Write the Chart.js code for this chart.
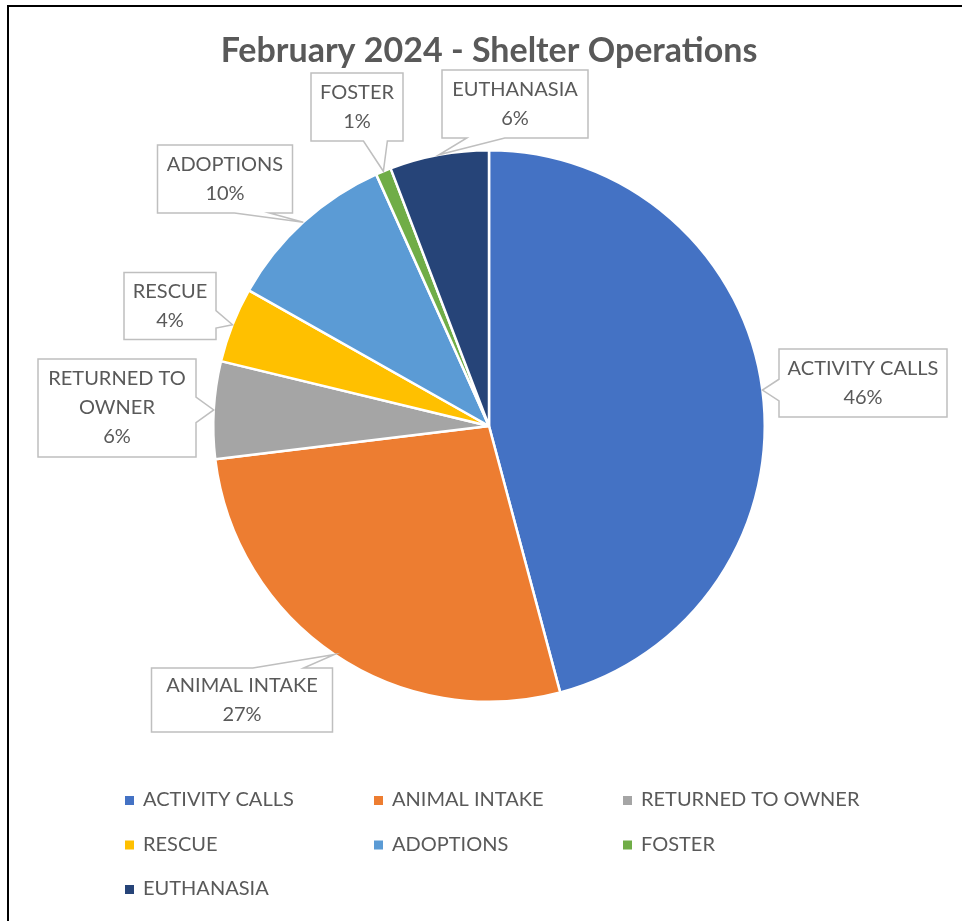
<!DOCTYPE html>
<html>
<head>
<meta charset="utf-8">
<script src="https://cdn.jsdelivr.net/npm/chart.js@4/dist/chart.umd.min.js"></script>
<style>
  html, body { margin: 0; padding: 0; background: #fff; }
  #wrap { width: 962px; height: 921px; position: relative; }
</style>
</head>
<body>
<div id="wrap"><canvas id="c" width="962" height="921"></canvas></div>
<script>
// ---- data ----
const chartTitle = 'February 2024 - Shelter Operations';
const categories = ['ACTIVITY CALLS', 'ANIMAL INTAKE', 'RETURNED TO OWNER', 'RESCUE', 'ADOPTIONS', 'FOSTER', 'EUTHANASIA'];
const shares = [45.8, 27.2, 5.7, 4.4, 10.1, 0.9, 5.8];
const sliceColors = ['#4472C4', '#ED7D31', '#A5A5A5', '#FFC000', '#5B9BD5', '#70AD47', '#264478'];
// label text lines for the callouts (category name split the way the picture wraps it)
const calloutLines = [['ACTIVITY CALLS'], ['ANIMAL INTAKE'], ['RETURNED TO', 'OWNER'], ['RESCUE'], ['ADOPTIONS'], ['FOSTER'], ['EUTHANASIA']];

// ---- layout (positions/styles only) ----
const TEXT = '#595959';
const FONT = 'Lato, "Open Sans", sans-serif';
// callout box centre offset from pie centre (px), box size, edge that carries the pointer
const calloutLayout = [
  { dx: 374, dy: -43, w: 168, h: 68, edge: 'left' },
  { dx: -247, dy: 274, w: 181, h: 64, edge: 'top' },
  { dx: -372, dy: -18, w: 158, h: 98, edge: 'right' },
  { dx: -319, dy: -120, w: 92, h: 67, edge: 'right' },
  { dx: -264, dy: -247, w: 135, h: 68, edge: 'bottom' },
  { dx: -132, dy: -319, w: 92, h: 68, edge: 'bottom' },
  { dx: 26, dy: -322, w: 146, h: 68, edge: 'bottom' }
];

const frameAndTitle = {
  id: 'frameAndTitle',
  beforeDraw(chart) {
    const ctx = chart.ctx;
    ctx.save();
    ctx.fillStyle = '#ffffff';
    ctx.fillRect(0, 0, chart.width, chart.height);
    ctx.fillStyle = '#000000';
    ctx.fillRect(7, 5, 2, chart.height - 5);
    ctx.fillRect(7, 5, chart.width - 7, 2);
    ctx.fillStyle = TEXT;
    ctx.font = 'bold 34px ' + FONT;
    ctx.textAlign = 'center';
    ctx.textBaseline = 'middle';
    ctx.fillText(chartTitle, 489, 51);
    ctx.restore();
  }
};

const callouts = {
  id: 'callouts',
  afterDatasetsDraw(chart) {
    const ctx = chart.ctx;
    const meta = chart.getDatasetMeta(0);
    const data = chart.data.datasets[0].data;
    const total = data.reduce((a, b) => a + b, 0);
    ctx.save();
    meta.data.forEach((arc, i) => {
      const p = arc.getProps(['x', 'y', 'startAngle', 'endAngle', 'outerRadius'], true);
      const mid = (p.startAngle + p.endAngle) / 2;
      const tip = { x: p.x + Math.cos(mid) * p.outerRadius, y: p.y + Math.sin(mid) * p.outerRadius };
      const L = calloutLayout[i];
      const lines = calloutLines[i].concat([Math.round(data[i] / total * 100) + '%']);
      ctx.font = '20px ' + FONT;
      let tw = 0;
      lines.forEach(t => { tw = Math.max(tw, ctx.measureText(t).width); });
      const w = Math.max(L.w, tw + 16);
      const h = L.h;
      const cx = p.x + L.dx, cy = p.y + L.dy;
      const l = cx - w / 2, r = cx + w / 2, t = cy - h / 2, b = cy + h / 2;
      const clamp = (v, lo, hi) => Math.max(lo, Math.min(hi, v));
      ctx.beginPath();
      ctx.moveTo(l, t);
      if (L.edge === 'top') {
        const c = clamp(tip.x, l + 0.3 * w, r - 0.3 * w), hw = 0.14 * w;
        ctx.lineTo(c - hw, t); ctx.lineTo(tip.x, tip.y); ctx.lineTo(c + hw, t);
      }
      ctx.lineTo(r, t);
      if (L.edge === 'right') {
        const c = clamp(tip.y, t + 0.3 * h, b - 0.3 * h), hh = 0.13 * h;
        ctx.lineTo(r, c - hh); ctx.lineTo(tip.x, tip.y); ctx.lineTo(r, c + hh);
      }
      ctx.lineTo(r, b);
      if (L.edge === 'bottom') {
        const c = clamp(tip.x, l + 0.3 * w, r - 0.3 * w), hw = 0.13 * w;
        ctx.lineTo(c + hw, b); ctx.lineTo(tip.x, tip.y); ctx.lineTo(c - hw, b);
      }
      ctx.lineTo(l, b);
      if (L.edge === 'left') {
        const c = clamp(tip.y, t + 0.3 * h, b - 0.3 * h), hh = 0.16 * h;
        ctx.lineTo(l, c + hh); ctx.lineTo(tip.x, tip.y); ctx.lineTo(l, c - hh);
      }
      ctx.closePath();
      ctx.fillStyle = '#ffffff';
      ctx.fill();
      ctx.strokeStyle = '#BFBFBF';
      ctx.lineWidth = 1.5;
      ctx.stroke();
      ctx.fillStyle = TEXT;
      ctx.textAlign = 'center';
      ctx.textBaseline = 'middle';
      const lh = 29;
      const y0 = cy - (lines.length - 1) * lh / 2;
      lines.forEach((txt, k) => ctx.fillText(txt, cx, y0 + k * lh));
    });
    ctx.restore();
  }
};

const legendGrid = {
  id: 'legendGrid',
  afterDraw(chart) {
    const ctx = chart.ctx;
    const labels = chart.data.labels;
    const colors = chart.data.datasets[0].backgroundColor;
    ctx.save();
    ctx.font = '20px ' + FONT;
    ctx.textBaseline = 'middle';
    ctx.textAlign = 'left';
    labels.forEach((lab, i) => {
      const col = i % 3, row = Math.floor(i / 3);
      const x = 125 + col * 249;
      const y = 800 + row * 44.5;
      ctx.fillStyle = colors[i];
      ctx.fillRect(x, y - 4, 9, 9);
      ctx.fillStyle = TEXT;
      ctx.fillText(lab, x + 18, y);
    });
    ctx.restore();
  }
};

new Chart(document.getElementById('c'), {
  type: 'pie',
  data: {
    labels: categories,
    datasets: [{
      data: shares,
      backgroundColor: sliceColors,
      borderColor: '#ffffff',
      borderWidth: 2.5
    }]
  },
  options: {
    responsive: false,
    devicePixelRatio: 1,
    animation: false,
    layout: { padding: { left: 212, right: 196, top: 149, bottom: 218 } },
    plugins: {
      legend: { display: false },
      title: { display: false },
      tooltip: { enabled: false }
    }
  },
  plugins: [frameAndTitle, callouts, legendGrid]
});
</script>
</body>
</html>
